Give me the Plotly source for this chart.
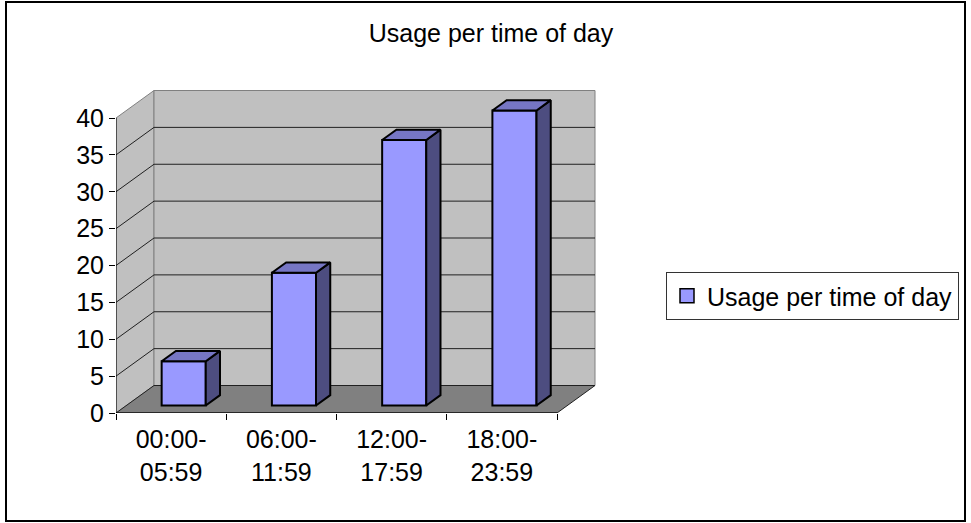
import plotly.graph_objects as go

# ---- data ----
categories = ["00:00-<br>05:59", "06:00-<br>11:59", "12:00-<br>17:59", "18:00-<br>23:59"]
values = [6, 18, 36, 40]
series_name = "Usage per time of day"
y_ticks = [0, 5, 10, 15, 20, 25, 30, 35, 40]

# ---- pseudo-3D geometry (in axis units) ----
W_PX, H_PX = 971, 523
ML, MR, MT, MB = 116, 370, 88, 110
PLOT_W = W_PX - ML - MR
PLOT_H = H_PX - MT - MB
XS = 110.25          # px per category
YS = 7.375           # px per value unit
X_MAX = PLOT_W / XS
Y_MAX = PLOT_H / YS
N = len(categories)
YTOP = y_ticks[-1]
DX = 38 / XS         # depth vector
DY = 27.5 / YS
F1, F2 = 0.273, 0.648  # bar front / back depth fractions
BW = 0.4
BOFF = 0.32

FONT = "Liberation Sans, Arial, sans-serif"


def px2paper(px, py):
    return (px - ML) / PLOT_W, (H_PX - MB - py) / PLOT_H


def poly(pts):
    s = "M " + " L ".join(f"{x},{y}" for x, y in pts) + " Z"
    return s


shapes = []
# side wall
shapes.append(dict(type="path", xref="x", yref="y", layer="below",
                   path=poly([(0, 0), (0, YTOP), (DX, YTOP + DY), (DX, DY)]),
                   fillcolor="#C0C0C0", line=dict(color="#808080", width=1)))
# back wall
shapes.append(dict(type="path", xref="x", yref="y", layer="below",
                   path=poly([(DX, DY), (DX, YTOP + DY), (N + DX, YTOP + DY), (N + DX, DY)]),
                   fillcolor="#C0C0C0", line=dict(color="#808080", width=1)))
# floor
shapes.append(dict(type="path", xref="x", yref="y", layer="below",
                   path=poly([(0, 0), (N, 0), (N + DX, DY), (DX, DY)]),
                   fillcolor="#808080", line=dict(color="#202020", width=1)))
# gridlines
for v in y_ticks[1:-1]:
    shapes.append(dict(type="line", xref="x", yref="y", layer="below",
                       x0=DX, y0=v + DY, x1=N + DX, y1=v + DY,
                       line=dict(color="#202020", width=1)))
    shapes.append(dict(type="line", xref="x", yref="y", layer="below",
                       x0=0, y0=v, x1=DX, y1=v + DY,
                       line=dict(color="#202020", width=1)))
# axis lines
shapes.append(dict(type="line", xref="x", yref="y", layer="below",
                   x0=0, y0=0, x1=0, y1=YTOP, line=dict(color="#000000", width=1)))
shapes.append(dict(type="line", xref="x", yref="y", layer="below",
                   x0=0, y0=0, x1=N, y1=0, line=dict(color="#000000", width=1)))
# chart border
bx0, by0 = px2paper(6, 521)
bx1, by1 = px2paper(965, 2)
shapes.append(dict(type="rect", xref="paper", yref="paper",
                   x0=bx0, y0=by0, x1=bx1, y1=by1,
                   line=dict(color="#000000", width=2)))

fig = go.Figure()

# front faces as real bars
centers = [i + BOFF + F1 * DX + BW / 2 for i in range(N)]
fig.add_trace(go.Bar(
    x=centers, y=values, base=[F1 * DY] * N, width=[BW] * N,
    name=series_name, marker=dict(color="#9999FF", line=dict(color="#000000", width=2)),
    showlegend=False, xaxis="x", yaxis="y"))

# top and side faces
d = F2 - F1
tx, ty, sx, sy = [], [], [], []
for i, v in enumerate(values):
    x0 = i + BOFF + F1 * DX
    x1 = x0 + BW
    y0 = F1 * DY
    y1 = v + F1 * DY
    tx += [x0, x1, x1 + d * DX, x0 + d * DX, x0, None]
    ty += [y1, y1, y1 + d * DY, y1 + d * DY, y1, None]
    sx += [x1, x1, x1 + d * DX, x1 + d * DX, x1, None]
    sy += [y0, y1, y1 + d * DY, y0 + d * DY, y0, None]

fig.add_trace(go.Scatter(x=sx, y=sy, mode="lines", fill="toself", fillcolor="#4D4D80",
                         line=dict(color="#000000", width=2), showlegend=False,
                         hoverinfo="skip"))
fig.add_trace(go.Scatter(x=tx, y=ty, mode="lines", fill="toself", fillcolor="#7676C4",
                         line=dict(color="#000000", width=2), showlegend=False,
                         hoverinfo="skip"))

# legend entry (square swatch like the reference)
fig.add_trace(go.Scatter(x=[None], y=[None], mode="markers", name=series_name,
                         marker=dict(symbol="square", size=14, color="#9999FF",
                                     line=dict(color="#000000", width=1.5)),
                         showlegend=True, hoverinfo="skip"))

lx, ly = px2paper(666, 272)

fig.update_layout(
    width=W_PX, height=H_PX,
    margin=dict(l=ML, r=MR, t=MT, b=MB, autoexpand=False),
    paper_bgcolor="white", plot_bgcolor="rgba(0,0,0,0)",
    font=dict(family=FONT, color="#000000", size=25),
    title=dict(text=series_name, x=491 / W_PX, xref="container", xanchor="center",
               y=1 - 33 / H_PX, yref="container", yanchor="middle",
               font=dict(size=25, family=FONT, color="#000000")),
    xaxis=dict(range=[0, X_MAX], tickvals=[i + 0.5 for i in range(N)], ticktext=categories,
               ticks="", showgrid=False, zeroline=False, showline=False,
               ticklabelstandoff=9,
               tickfont=dict(size=25, family=FONT, color="#000000"), fixedrange=True),
    xaxis2=dict(range=[0, X_MAX], overlaying="x", anchor="y", side="bottom",
                tickvals=list(range(N + 1)), showticklabels=False, ticks="outside",
                ticklen=6, tickcolor="#000000", showgrid=False, zeroline=False,
                showline=False, fixedrange=True),
    yaxis=dict(range=[0, Y_MAX], tickvals=y_ticks, ticks="outside", ticklen=6,
               tickcolor="#000000", showgrid=False, zeroline=False, showline=False,
               tickfont=dict(size=25, family=FONT, color="#000000"), fixedrange=True),
    legend=dict(x=lx, y=ly, xanchor="left", yanchor="top", bgcolor="white",
                bordercolor="#333333", borderwidth=1, itemsizing="trace",
                font=dict(size=25, family=FONT, color="#000000"), itemwidth=30),
    shapes=shapes,
    showlegend=True,
)
# dummy trace so xaxis2 is drawn
fig.add_trace(go.Scatter(x=[None], y=[None], xaxis="x2", yaxis="y", showlegend=False,
                         hoverinfo="skip"))

fig.write_html("out.html", config={"displayModeBar": False, "staticPlot": True},
               post_script="document.body.style.margin='0';document.body.style.overflow='hidden';")
